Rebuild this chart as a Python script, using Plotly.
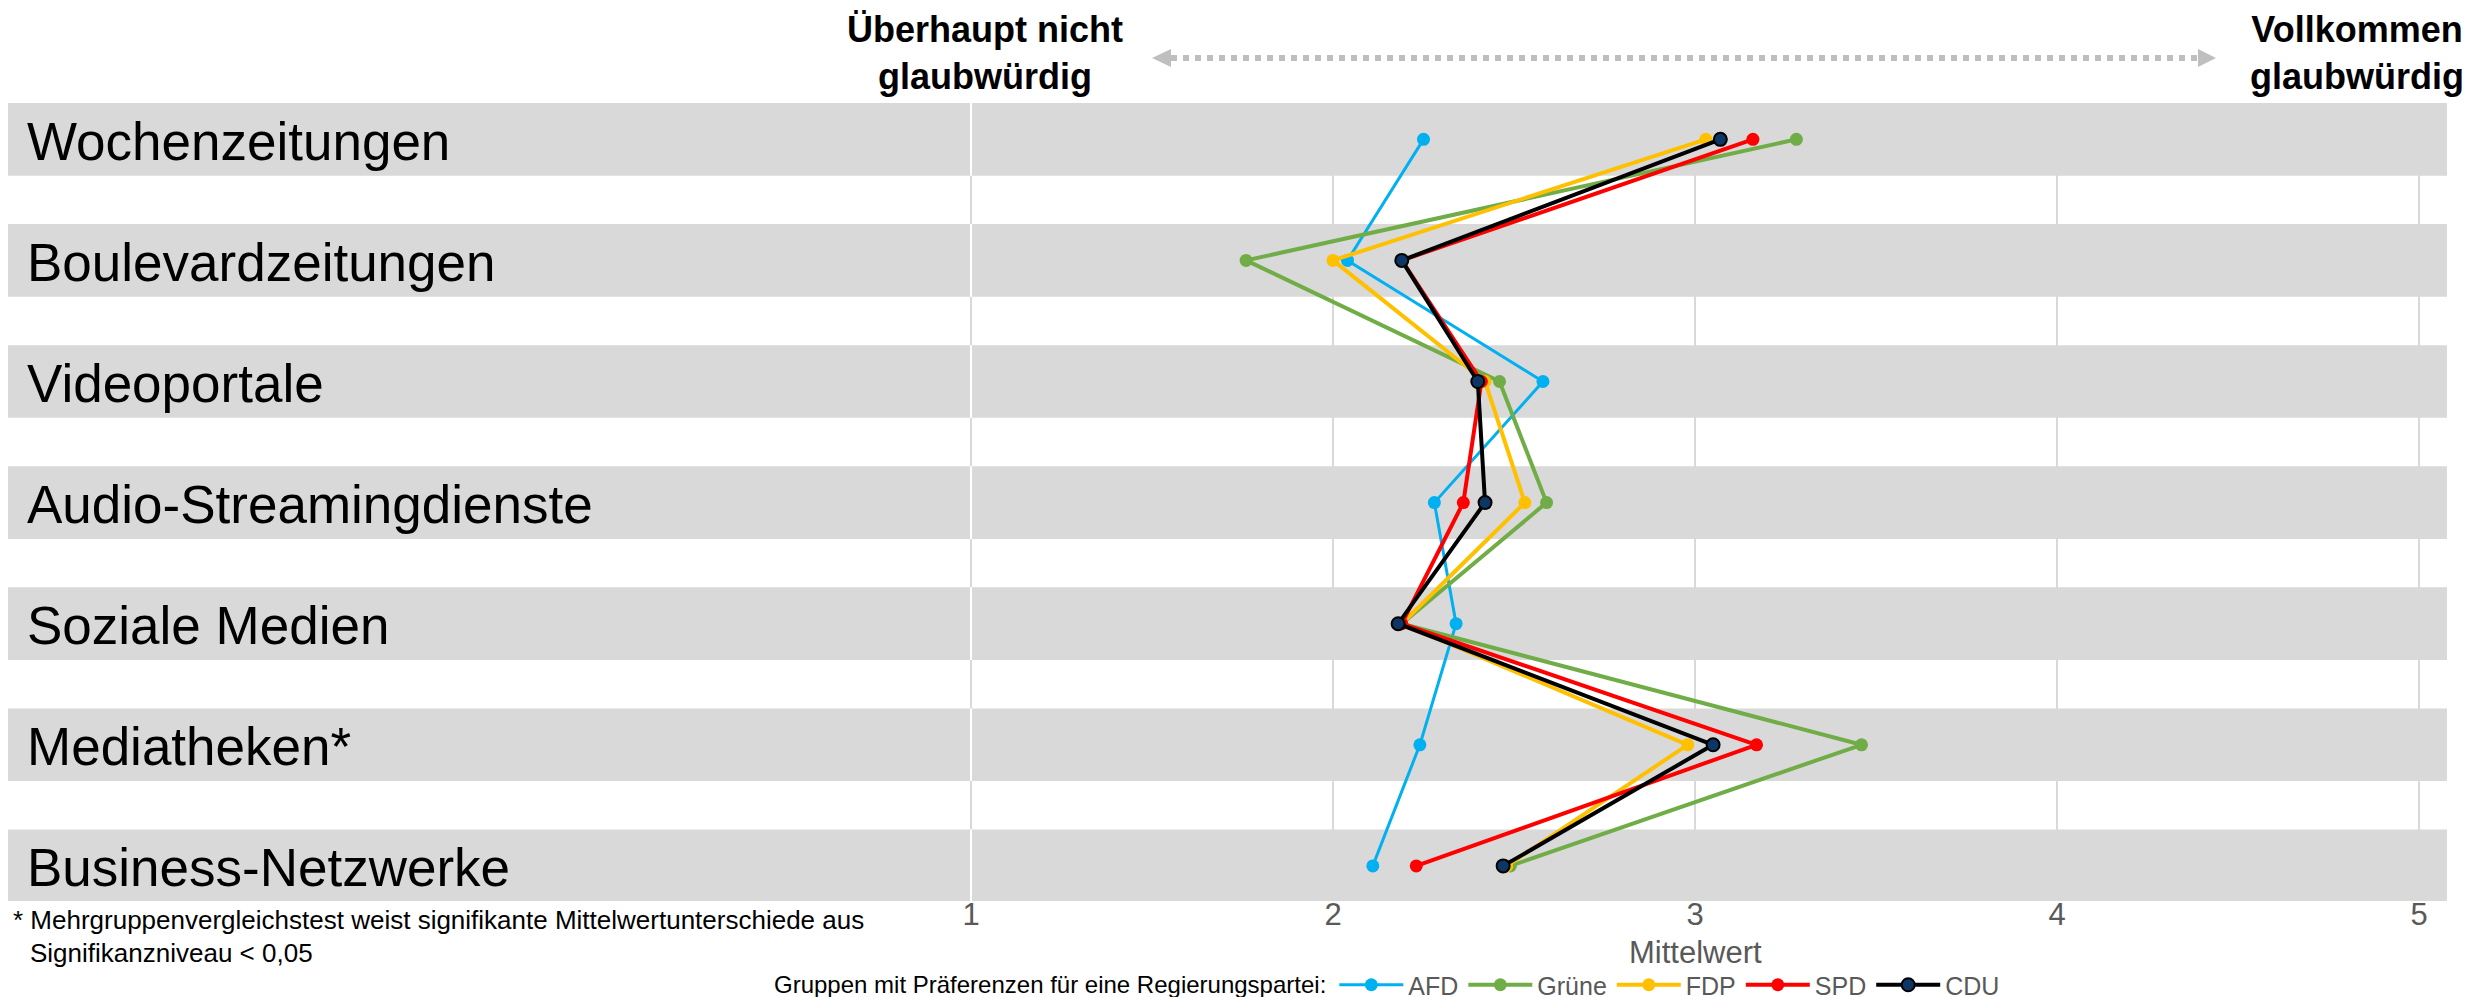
import plotly.graph_objects as go

# ---------------- data ----------------
categories = ["Wochenzeitungen", "Boulevardzeitungen", "Videoportale",
              "Audio-Streamingdienste", "Soziale Medien", "Mediatheken*",
              "Business-Netzwerke"]
afd    = [2.25, 2.04, 2.58, 2.28, 2.34, 2.24, 2.11]
gruene = [3.28, 1.76, 2.46, 2.59, 2.19, 3.46, 2.49]
fdp    = [3.03, 2.00, 2.42, 2.53, 2.19, 2.98, 2.48]
spd    = [3.16, 2.19, 2.41, 2.36, 2.19, 3.17, 2.23]
cdu    = [3.07, 2.19, 2.40, 2.42, 2.18, 3.05, 2.47]
x_ticks = [1, 2, 3, 4, 5]

series = [
    ("AFD", afd, "#00B0F0", "#00B0F0", 3),
    ("Grüne", gruene, "#70AD47", "#70AD47", 4),
    ("FDP", fdp, "#FFC000", "#FFC000", 4),
    ("SPD", spd, "#FF0000", "#FF0000", 4),
    ("CDU", cdu, "#000000", "#0E3664", 4),
]

# page body has an 8px margin: figure coords = page coords - 8
OFF = 8
W, H = 2478, 997
PLOT_L, PLOT_R = 8 - OFF, 2447 - OFF      # figure px
PLOT_T, PLOT_B = 103 - OFF, 901 - OFF
L, R, T, B = PLOT_L, W - PLOT_R, PLOT_T, H - PLOT_B
FONT = "Liberation Sans, Arial, sans-serif"
GRAY = "#595959"
BAND = "#D9D9D9"

ypos = list(range(len(categories)))

fig = go.Figure()
for name, vals, lc, mc, lw in series:
    fig.add_trace(go.Scatter(
        x=vals, y=ypos, mode="lines+markers", name=name,
        line=dict(color=lc, width=lw),
        marker=dict(size=13, color=mc,
                    line=dict(color="#000000" if name == "CDU" else mc,
                              width=2 if name == "CDU" else 0)),
    ))

pw = PLOT_R - PLOT_L
ph = PLOT_B - PLOT_T
def px(page_x):
    return (page_x - OFF - PLOT_L) / pw
def py(page_y):
    return (PLOT_B - (page_y - OFF)) / ph

shapes = []
half = 0.30
for i in ypos:
    shapes.append(dict(type="rect", xref="paper", yref="y", x0=0, x1=1,
                       y0=i - half, y1=i + half, fillcolor=BAND,
                       line=dict(width=0), layer="between"))
    shapes.append(dict(type="line", xref="x", yref="y", x0=x_ticks[0], x1=x_ticks[0],
                       y0=i - half, y1=i + half,
                       line=dict(color="white", width=2), layer="between"))

# dotted double arrow at top
ay = py(58)
shapes.append(dict(type="line", xref="paper", yref="paper",
                   x0=px(1171), x1=px(2199), y0=ay, y1=ay,
                   line=dict(color="#BFBFBF", width=6, dash="6px,6px")))
shapes.append(dict(type="path", xref="paper", yref="paper",
                   path=f"M {px(1152)} {ay} L {px(1171)} {py(49)} L {px(1171)} {py(67)} Z",
                   fillcolor="#BFBFBF", line=dict(width=0)))
shapes.append(dict(type="path", xref="paper", yref="paper",
                   path=f"M {px(2216)} {ay} L {px(2198)} {py(49)} L {px(2198)} {py(67)} Z",
                   fillcolor="#BFBFBF", line=dict(width=0)))

annotations = [
    dict(text="<b>Überhaupt nicht</b><br><b>glaubwürdig</b>", xref="paper", yref="paper",
         x=px(985), y=py(53), xanchor="center", yanchor="middle", align="center",
         showarrow=False, font=dict(family=FONT, size=36, color="#000000")),
    dict(text="<b>Vollkommen</b><br><b>glaubwürdig</b>", xref="paper", yref="paper",
         x=px(2357), y=py(53), xanchor="center", yanchor="middle", align="center",
         showarrow=False, font=dict(family=FONT, size=36, color="#000000")),
    dict(text="Mittelwert", xref="x", yref="paper", x=3, y=py(953),
         xanchor="center", yanchor="middle", showarrow=False,
         font=dict(family=FONT, size=31, color=GRAY)),
    dict(text="* Mehrgruppenvergleichstest weist signifikante Mittelwertunterschiede aus",
         xref="paper", yref="paper", x=px(11), y=py(920), xanchor="left", yanchor="middle",
         showarrow=False, font=dict(family=FONT, size=26, color="#000000")),
    dict(text="Signifikanzniveau &lt; 0,05",
         xref="paper", yref="paper", x=px(28), y=py(953), xanchor="left", yanchor="middle",
         showarrow=False, font=dict(family=FONT, size=26, color="#000000")),
]

fig.update_layout(
    width=W, height=H,
    margin=dict(l=L, r=R, t=T, b=B, pad=0, autoexpand=False),
    paper_bgcolor="white", plot_bgcolor="white",
    font=dict(family=FONT, color="#000000"),
    shapes=shapes, annotations=annotations,
    showlegend=True,
    legend=dict(orientation="h", x=px(772), xanchor="left", y=py(985), yanchor="middle",
                title=dict(text="Gruppen mit Präferenzen für eine Regierungspartei:",
                           side="left", font=dict(family=FONT, size=24, color="#000000")),
                font=dict(family=FONT, size=25, color=GRAY),
                bgcolor="rgba(0,0,0,0)", itemwidth=64, tracegroupgap=0),
    xaxis=dict(range=[1 - (971 - 8) / 362, 1 + (2447 - 971) / 362],
               tickmode="array", tickvals=x_ticks, ticktext=[str(v) for v in x_ticks],
               showgrid=True, gridcolor=BAND, gridwidth=2, zeroline=False,
               showline=False, ticks="", tickfont=dict(family=FONT, size=31, color=GRAY),
               ticklabelstandoff=-8, fixedrange=True),
    yaxis=dict(range=[6.29, -0.30], tickmode="array", tickvals=ypos, ticktext=categories,
               ticklabelposition="inside", ticklabelstandoff=16, ticklabelshift=-2,
               ticklabeloverflow="allow",
               showgrid=False, zeroline=False, showline=False, ticks="",
               tickfont=dict(family=FONT, size=53, color="#000000"), fixedrange=True),
)

fig.write_html("out.html")
